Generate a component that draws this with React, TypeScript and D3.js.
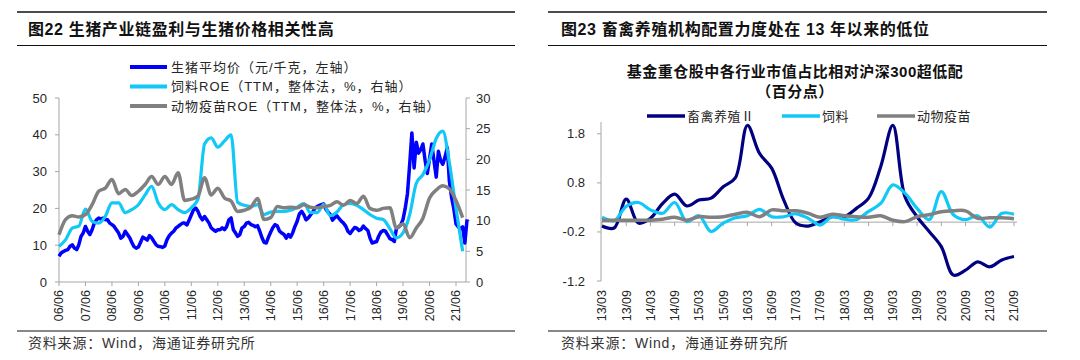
import React from "react";
import * as d3 from "d3";

// ---------- Left chart data ----------
const leftTitle = "图22 生猪产业链盈利与生猪价格相关性高";
const leftLegend = [
  "生猪平均价（元/千克，左轴）",
  "饲料ROE（TTM，整体法，%，右轴）",
  "动物疫苗ROE（TTM，整体法，%，右轴）",
];
const leftXTicks = ["06/06","07/06","08/06","09/06","10/06","11/06","12/06","13/06","14/06","15/06","16/06","17/06","18/06","19/06","20/06","21/06"];
const leftYTicks = [0, 10, 20, 30, 40, 50];
const rightYTicksL = [0, 5, 10, 15, 20, 25, 30];

// monthly pig price, 2006-06 .. 2021-11
const pigPrice = [
  7.0, 7.9, 8.3, 8.6, 8.8, 9.7, 10.1,
  9.2, 8.8, 10.1, 12.4, 13.3, 15.1, 13.8, 12.9, 14.2, 16.0, 16.9, 17.4,
  17.1, 17.4, 16.9, 16.9, 16.0, 15.6, 15.1, 14.2, 13.3, 11.9, 12.4, 13.8,
  12.9, 12.0, 10.8, 9.6, 9.2, 9.5, 10.8, 12.2, 11.8, 11.4, 12.6, 12.0,
  11.0, 10.1, 9.7, 9.6, 9.4, 9.8, 11.5, 12.6, 13.3, 13.8, 14.7, 15.1,
  15.6, 16.0, 16.0, 15.5, 16.8, 18.2, 19.6, 20.1, 19.2, 17.8, 16.9, 17.8,
  16.9, 16.0, 14.7, 14.2, 13.8, 14.2, 14.2, 14.7, 14.2, 15.1, 16.9, 17.4,
  14.2, 13.3, 12.4, 12.9, 14.7, 15.1, 16.0, 16.2, 15.6, 15.4, 15.0, 15.3,
  13.8, 12.0, 10.8, 10.6, 12.2, 13.6, 14.8, 15.6, 15.2, 13.8, 13.3, 12.9,
  11.9, 12.9, 12.2, 13.4, 15.1, 16.5, 18.5, 19.2, 18.3, 16.9, 17.4, 18.2,
  19.0, 20.1, 20.5, 20.8, 21.0, 21.2, 19.8, 19.0, 18.3, 16.8, 17.5, 18.0,
  17.2, 16.5, 16.0, 15.2, 13.8, 13.2, 14.0, 14.8, 14.6, 14.0, 14.3, 15.2,
  14.5, 14.0, 12.0, 10.6, 10.8, 11.0, 12.5, 13.6, 14.0, 13.8, 12.8, 11.8,
  11.5, 11.0, 14.5, 15.0, 15.5, 17.0, 20.0, 24.0, 32.0, 40.5, 31.0, 38.0,
  35.0, 36.0, 37.5, 33.0, 29.5, 33.5, 37.5, 33.0, 28.5, 35.5, 33.0, 32.0,
  34.0, 36.5, 27.5, 23.0, 20.0, 15.8, 15.0, 14.5, 15.0, 10.6, 17.0,
];

// quarterly ROE, 2006-06 .. 2021-09
const feedROE = [
  5.8, 6.9, 8.8,
  9.1, 11.9, 9.9, 9.6,
  10.7, 12.9, 12.9, 11.3,
  11.8, 12.6, 14.2, 15.6,
  12.9, 11.8, 12.6, 11.8,
  11.3, 12.1, 13.5, 22.5,
  23.5, 22.0, 23.0, 24.0,
  13.0, 12.5, 12.3, 12.6,
  11.0, 11.4, 11.5, 11.5,
  11.7, 12.2, 12.8, 11.3,
  11.3, 12.6, 10.8, 11.4,
  12.6, 12.8, 12.5, 11.8,
  11.0, 10.4, 10.2, 8.7,
  7.2, 8.0, 11.0, 16.1,
  17.5, 19.9, 23.4, 24.6,
  19.5, 12.0, 5.0,
];
const vaccineROE = [
  7.7, 10.2, 10.8,
  10.6, 11.0, 12.6, 14.8,
  15.3, 16.7, 14.4, 15.1,
  14.1, 14.8, 15.9, 17.2,
  15.9, 17.2, 15.9, 17.8,
  13.3, 13.5, 14.0, 17.0,
  14.2, 15.3, 13.7, 13.2,
  11.5, 11.7, 12.2, 13.6,
  10.2, 10.5, 12.3, 12.1,
  12.2, 12.1, 12.6, 12.2,
  12.1, 12.3, 12.5, 13.1,
  12.5, 13.3, 12.8, 14.0,
  12.0, 11.7, 12.0, 12.1,
  8.8, 9.5, 7.2, 8.8,
  10.4, 13.7, 15.0, 15.7,
  15.2, 13.3, 10.5,
];

// ---------- Right chart data ----------
const rightTitle = "图23 畜禽养殖机构配置力度处在 13 年以来的低位";
const rightSub1 = "基金重仓股中各行业市值占比相对沪深300超低配";
const rightSub2 = "（百分点）";
const rightLegend = ["畜禽养殖Ⅱ", "饲料", "动物疫苗"];
const rightXTicks = ["13/03","13/09","14/03","14/09","15/03","15/09","16/03","16/09","17/03","17/09","18/03","18/09","19/03","19/09","20/03","20/09","21/03","21/09"];
const rightYTicks = [-1.2, -0.2, 0.8, 1.8];
const livestock = [
  -0.08, -0.12, 0.47, -0.02,
  0.08, 0.38, 0.57, 0.33,
  0.45, 0.49, 0.72, 0.9,
  1.97, 1.4, 1.1, 0.45,
  -0.02, -0.08, 0.01, 0.11,
  0.11, 0.28, 0.49, 1.13,
  1.97, 0.52, 0.11, -0.19,
  -0.5, -1.08, -0.98, -0.81,
  -0.91, -0.77, -0.7,
];
const feedR = [
  0.1, 0.03, 0.32, 0.4,
  0.25, 0.18, 0.4, 0.01,
  0.13, -0.19, -0.02, 0.09,
  0.13, 0.26, 0.11, 0.11,
  0.17, 0.08, -0.06, 0.11,
  0.06, 0.05, 0.22, 0.38,
  0.76, 0.59, 0.28, 0.05,
  0.62, 0.15, 0.05, 0.13,
  -0.1, 0.18, 0.16,
];
const vaccineR = [
  0.04, 0.04, 0.04, 0.04,
  0.04, 0.06, 0.1, 0.04,
  0.11, 0.1, 0.11, 0.16,
  0.2, 0.11, 0.25, 0.23,
  0.23, 0.18, 0.1, 0.16,
  0.13, 0.11, 0.1, 0.13,
  0.04, 0.01, 0.11, 0.15,
  0.21, 0.23, 0.23, 0.08,
  0.09, 0.09, 0.07,
];

const source = "资料来源：Wind，海通证券研究所";

const FONT = '"Liberation Sans", Arial, "Noto Sans CJK SC", sans-serif';
const AXIS = "#a6a6a6";
const TXT = "#262626";
const BLUE = "#0000ff";
const CYAN = "#11c8f7";
const GRAY = "#808080";
const NAVY = "#000080";

function Frame({ x0, x1, title, tx }: { x0: number; x1: number; title: string; tx: number }) {
  return (
    <g>
      <line x1={x0} x2={x1} y1={12} y2={12} stroke="#111" strokeWidth={1.4} />
      <line x1={x0} x2={x1} y1={45.5} y2={45.5} stroke="#111" strokeWidth={1} />
      <text x={tx} y={35} fontSize={16} fontWeight="bold" fill="#111" fontFamily={FONT} letterSpacing={0.6}>{title}</text>
      <line x1={x0} x2={x1} y1={331} y2={331} stroke="#111" strokeWidth={1.2} />
      <text x={tx} y={348} fontSize={14} fill="#333" fontFamily={FONT} letterSpacing={0.8}>{source}</text>
    </g>
  );
}

function LeftChart() {
  const start = new Date(2006, 5, 1);
  const x = d3.scaleTime().domain([start, new Date(2021, 5, 1)]).range([59, 456]);
  const yL = d3.scaleLinear().domain([0, 50]).range([282, 98]);
  const yR = d3.scaleLinear().domain([0, 30]).range([282, 98]);
  const priceDates = pigPrice.map((_, i) => d3.timeMonth.offset(start, i));
  const roeDates = feedROE.map((_, i) => d3.timeMonth.offset(start, 3 * i));
  const xEnd = 466;
  const linePrice = d3.line<number>().x((_, i) => x(priceDates[i])).y((d) => yL(d));
  const lineRoe = d3.line<number>().x((_, i) => x(roeDates[i])).y((d) => yR(d)).curve(d3.curveMonotoneX);
  const colors = [BLUE, CYAN, GRAY];
  return (
    <g fontFamily={FONT}>
      <Frame x0={17} x1={515} title={leftTitle} tx={28} />
      <line x1={59} x2={59} y1={98} y2={282} stroke={AXIS} />
      <line x1={xEnd} x2={xEnd} y1={98} y2={282} stroke={AXIS} />
      <line x1={59} x2={xEnd} y1={282} y2={282} stroke={AXIS} />
      {leftYTicks.map((v) => (
        <g key={"l" + v}>
          <line x1={55} x2={59} y1={yL(v)} y2={yL(v)} stroke={AXIS} />
          <text x={47} y={yL(v)} dy="0.35em" textAnchor="end" fontSize={13} fill={TXT}>{v}</text>
        </g>
      ))}
      {rightYTicksL.map((v) => (
        <g key={"r" + v}>
          <line x1={xEnd} x2={xEnd + 4} y1={yR(v)} y2={yR(v)} stroke={AXIS} />
          <text x={476} y={yR(v)} dy="0.35em" textAnchor="start" fontSize={13} fill={TXT}>{v}</text>
        </g>
      ))}
      {leftXTicks.map((t, i) => {
        const px = x(new Date(2006 + i, 5, 1));
        return (
          <g key={t}>
            <line x1={px} x2={px} y1={282} y2={286} stroke={AXIS} />
            <text transform={`translate(${px},290) rotate(-90)`} dy="0.35em" textAnchor="end" fontSize={12.5} fill={TXT}>{t}</text>
          </g>
        );
      })}
      <path d={linePrice(pigPrice) || ""} fill="none" stroke={BLUE} strokeWidth={3.5} strokeLinejoin="round" />
      <path d={lineRoe(feedROE) || ""} fill="none" stroke={CYAN} strokeWidth={3.2} strokeLinejoin="round" />
      <path d={lineRoe(vaccineROE) || ""} fill="none" stroke={GRAY} strokeWidth={3.5} strokeLinejoin="round" />
      {leftLegend.map((t, i) => (
        <g key={t}>
          <line x1={130} x2={167} y1={67 + i * 19.5} y2={67 + i * 19.5} stroke={colors[i]} strokeWidth={4} />
          <text x={171} y={67 + i * 19.5} dy="0.35em" fontSize={13} fill={TXT} letterSpacing={1}>{t}</text>
        </g>
      ))}
    </g>
  );
}

function RightChart() {
  const n = livestock.length;
  const x = d3.scaleLinear().domain([0, n - 1]).range([602, 1014]);
  const y = d3.scaleLinear().domain([-1.2, 2.0]).range([281, 124]);
  const line = d3.line<number>().x((_, i) => x(i)).y((d) => y(d)).curve(d3.curveCatmullRom.alpha(0.5));
  const colors = [NAVY, CYAN, GRAY];
  const legendX = [647, 782, 877];
  return (
    <g fontFamily={FONT}>
      <Frame x0={548} x1={1047} title={rightTitle} tx={561} />
      <text x={795} y={77} textAnchor="middle" fontSize={15} fontWeight="bold" fill="#111" letterSpacing={0.5}>{rightSub1}</text>
      <text x={795} y={97} textAnchor="middle" fontSize={15} fontWeight="bold" fill="#111" letterSpacing={0.5}>{rightSub2}</text>
      {rightLegend.map((t, i) => (
        <g key={t}>
          <line x1={legendX[i]} x2={legendX[i] + 38} y1={116} y2={116} stroke={colors[i]} strokeWidth={3.5} />
          <text x={legendX[i] + 40} y={116} dy="0.35em" fontSize={13} fill={TXT} letterSpacing={0.5}>{t}</text>
        </g>
      ))}
      <defs>
        <clipPath id="rclip">
          <rect x={595} y={123} width={430} height={170} />
        </clipPath>
      </defs>
      <line x1={601} x2={601} y1={122} y2={281} stroke={AXIS} />
      {rightYTicks.map((v) => (
        <g key={v}>
          <line x1={597} x2={601} y1={y(v)} y2={y(v)} stroke={AXIS} />
          <text x={585} y={y(v)} dy="0.35em" textAnchor="end" fontSize={13} fill={TXT}>{v.toFixed(1)}</text>
        </g>
      ))}
      <line x1={601} x2={1017} y1={y(0)} y2={y(0)} stroke={AXIS} />
      {rightXTicks.map((t, i) => {
        const px = x(i * 2);
        return (
          <g key={t}>
            <line x1={px} x2={px} y1={y(0)} y2={y(0) + 4} stroke={AXIS} />
            <text transform={`translate(${px},290) rotate(-90)`} dy="0.35em" textAnchor="end" fontSize={12.5} fill={TXT}>{t}</text>
          </g>
        );
      })}
      <g clipPath="url(#rclip)">
        <path d={line(livestock) || ""} fill="none" stroke={NAVY} strokeWidth={3.2} strokeLinejoin="round" />
        <path d={line(feedR) || ""} fill="none" stroke={CYAN} strokeWidth={3.2} strokeLinejoin="round" />
        <path d={line(vaccineR) || ""} fill="none" stroke={GRAY} strokeWidth={3.5} strokeLinejoin="round" />
      </g>
    </g>
  );
}

export default function App() {
  return (
    <svg width={1080} height={360} style={{ position: "absolute", left: 0, top: 0, background: "#fff" }}>
      <rect width={1080} height={360} fill="#fff" />
      <LeftChart />
      <RightChart />
    </svg>
  );
}
